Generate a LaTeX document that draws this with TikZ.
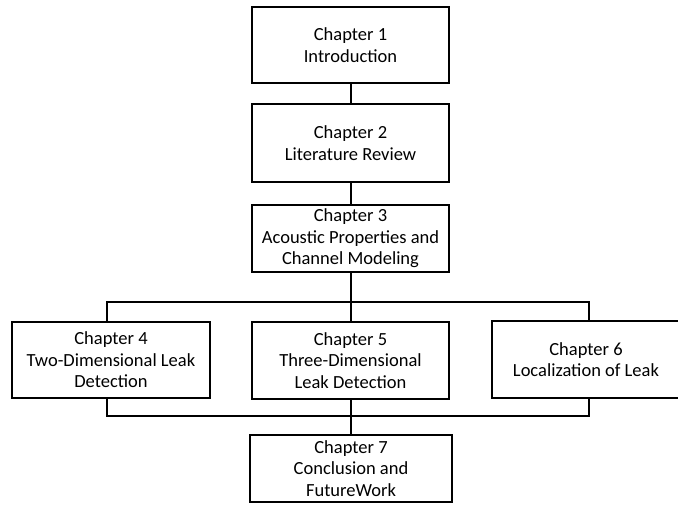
\documentclass[tikz,border=0pt]{standalone}
\usepackage{fontspec}
\setmainfont{Carlito}
\usetikzlibrary{calc}

\begin{document}
\begin{tikzpicture}[x=1pt, y=-1pt,
    chapbox/.style={draw, line width=2.2pt, align=center, inner sep=0pt,
        font=\fontsize{18.5}{21.5}\selectfont},
    link/.style={line width=2pt}]

    % 1. Page frame
    \useasboundingbox (0,0) rectangle (678,515);

    % 2. The chapter boxes
    \node[chapbox, minimum width=197, minimum height=76] (ch1) at (350.5,45) {Chapter 1\\Introduction};
    \node[chapbox, minimum width=197, minimum height=78] (ch2) at (350.5,143) {Chapter 2\\Literature Review};
    \node[chapbox, minimum width=197, minimum height=67] (ch3) at (350.5,238.5) {Chapter 3\\Acoustic Properties and\\Channel Modeling};
    \node[chapbox, minimum width=198, minimum height=76] (ch4) at (111,360) {Chapter 4\\Two-Dimensional Leak\\Detection};
    \node[chapbox, minimum width=197, minimum height=77] (ch5) at (350.5,360.5) {Chapter 5\\Three-Dimensional\\Leak Detection};
    \node[chapbox, minimum width=188, minimum height=77] (ch6) at (586,359.5) {Chapter 6\\Localization of Leak};
    \node[chapbox, minimum width=202, minimum height=67] (ch7) at (351,468.5) {Chapter 7\\Conclusion and\\FutureWork};

    % 3. Ends of the two buses
    \coordinate (tl) at (107,302);
    \coordinate (tr) at (589,302);
    \coordinate (bl) at (107,416);
    \coordinate (br) at (589,416);

    % 4. The main line
    \draw[link] (ch1.south) -- (ch2.north);
    \draw[link] (ch2.south) -- (ch3.north);
    \draw[link] (ch3.south) -- (ch5.north);
    \draw[link] (ch5.south) -- (ch5.south |- ch7.north);

    % 5. Split and join
    \draw[link] (tl |- ch4.north) -- (tl) -- (tr) -- (tr |- ch6.north);
    \draw[link] (bl |- ch4.south) -- (bl) -- (br) -- (br |- ch6.south);

\end{tikzpicture}
\end{document}
